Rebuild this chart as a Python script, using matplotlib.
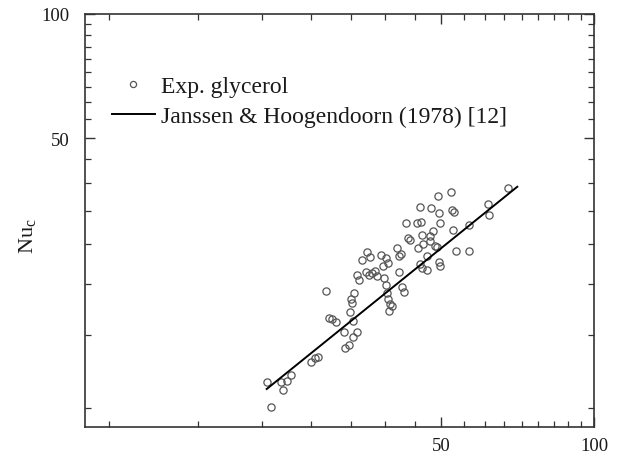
import matplotlib
matplotlib.use("Agg")
import matplotlib.pyplot as plt
from matplotlib.ticker import FixedLocator, NullFormatter, FixedFormatter

plt.rcParams['font.family'] = ['Liberation Serif', 'DejaVu Serif']
plt.rcParams['mathtext.fontset'] = 'custom'
plt.rcParams['mathtext.rm'] = 'Liberation Serif'
plt.rcParams['mathtext.it'] = 'Liberation Serif:italic'

# Experimental data (glycerol)
exp_x = [22.73, 23.15, 24.25, 24.88, 25.33, 24.50, 27.74, 28.25, 28.67, 29.73,
         30.10, 30.55, 31.06, 32.30, 32.45, 33.00, 33.64, 34.26, 33.14, 33.56,
         33.30, 33.49, 33.75, 34.17, 34.57, 35.04, 35.84, 36.29, 35.63, 36.17,
         36.56, 37.11, 37.50, 38.14, 38.96, 39.32, 38.54, 38.71, 38.96, 39.14,
         39.42, 39.72, 39.60, 40.03, 40.95, 41.32, 41.81, 41.44, 42.00, 42.32,
         42.76, 43.03, 43.48, 44.82, 45.70, 45.08, 45.50, 45.97, 46.17, 45.50,
         45.85, 47.01, 47.01, 47.59, 48.18, 47.88, 48.68, 49.06, 49.28, 49.51,
         49.80, 49.64, 49.80, 52.35, 52.52, 53.07, 52.90, 53.47, 56.79, 56.87,
         61.97, 62.26, 67.66, 47.59]
exp_y = [12.81, 11.14, 12.81, 12.90, 13.37, 12.29, 14.32, 14.68, 14.73, 21.29,
         18.34, 18.27, 17.91, 16.93, 15.51, 15.80, 16.47, 16.93, 18.93, 18.07,
         20.39, 19.91, 21.05, 23.32, 22.68, 25.39, 26.55, 25.74, 23.75, 23.32,
         23.58, 23.79, 23.22, 26.12, 25.59, 24.93, 24.55, 22.89, 22.04, 21.05,
         20.39, 19.83, 19.10, 19.65, 27.10, 25.88, 26.22, 23.67, 21.77, 21.17,
         31.10, 28.65, 28.39, 31.10, 31.38, 27.10, 34.01, 29.19, 27.72, 24.79,
         24.20, 24.02, 25.96, 29.03, 29.85, 33.82, 27.46, 27.22, 36.28, 32.89,
         31.15, 25.11, 24.47, 36.98, 33.56, 33.07, 29.97, 26.71, 30.86, 26.61,
         34.64, 32.63, 37.87, 28.18]

# Janssen & Hoogendoorn (1978) correlation line
corr_x = [22.73, 70.66]
corr_y = [12.34, 38.14]

major_ticks = [50, 100]
major_labels = ["50", "100"]
minor_ticks = [k * 50 / 9 for k in range(2, 18) if k != 9]

fig = plt.figure(figsize=(6.22, 4.56), dpi=100)
ax = fig.add_axes([85.3 / 622, 1 - 427.7 / 456, 508.7 / 622, 412.7 / 456])

ax.plot(exp_x, exp_y, linestyle='none', marker='o', markersize=5.2,
        markerfacecolor='none', markeredgecolor='#555555', markeredgewidth=0.9,
        label='Exp. glycerol')
ax.plot(corr_x, corr_y, color='black', linewidth=1.4,
        label='Janssen & Hoogendoorn (1978) [12]')

ax.set_xscale('log')
ax.set_yscale('log')
ax.set_xlim(10, 100)
ax.set_ylim(10, 100)

for axis in (ax.xaxis, ax.yaxis):
    axis.set_major_locator(FixedLocator(major_ticks))
    axis.set_major_formatter(FixedFormatter(major_labels))
    axis.set_minor_locator(FixedLocator(minor_ticks))
    axis.set_minor_formatter(NullFormatter())

ax.tick_params(which='both', direction='in', top=True, right=True,
               color='#333333', labelsize=13.5, labelcolor='#1a1a1a')
ax.tick_params(which='major', length=7, width=1.0)
ax.tick_params(axis='x', which='major', pad=7.5)
ax.tick_params(axis='y', which='major', pad=11.5)
ax.tick_params(which='minor', length=4.5, width=0.9)
for s in ax.spines.values():
    s.set_linewidth(1.2)
    s.set_color('#333333')

ax.set_ylabel(r'Nu$_\mathrm{c}$', fontsize=16, color='#1a1a1a')
ax.yaxis.set_label_coords(-0.093, 0.464)

leg = ax.legend(loc='upper left', bbox_to_anchor=(0.0525, 0.851),
                frameon=False, fontsize=17, handlelength=1.82,
                handletextpad=0.25, labelspacing=0.37, borderpad=0,
                borderaxespad=0, markerscale=0.85)
for t in leg.get_texts():
    t.set_color('#1a1a1a')

fig.savefig('out.png', dpi=100)
